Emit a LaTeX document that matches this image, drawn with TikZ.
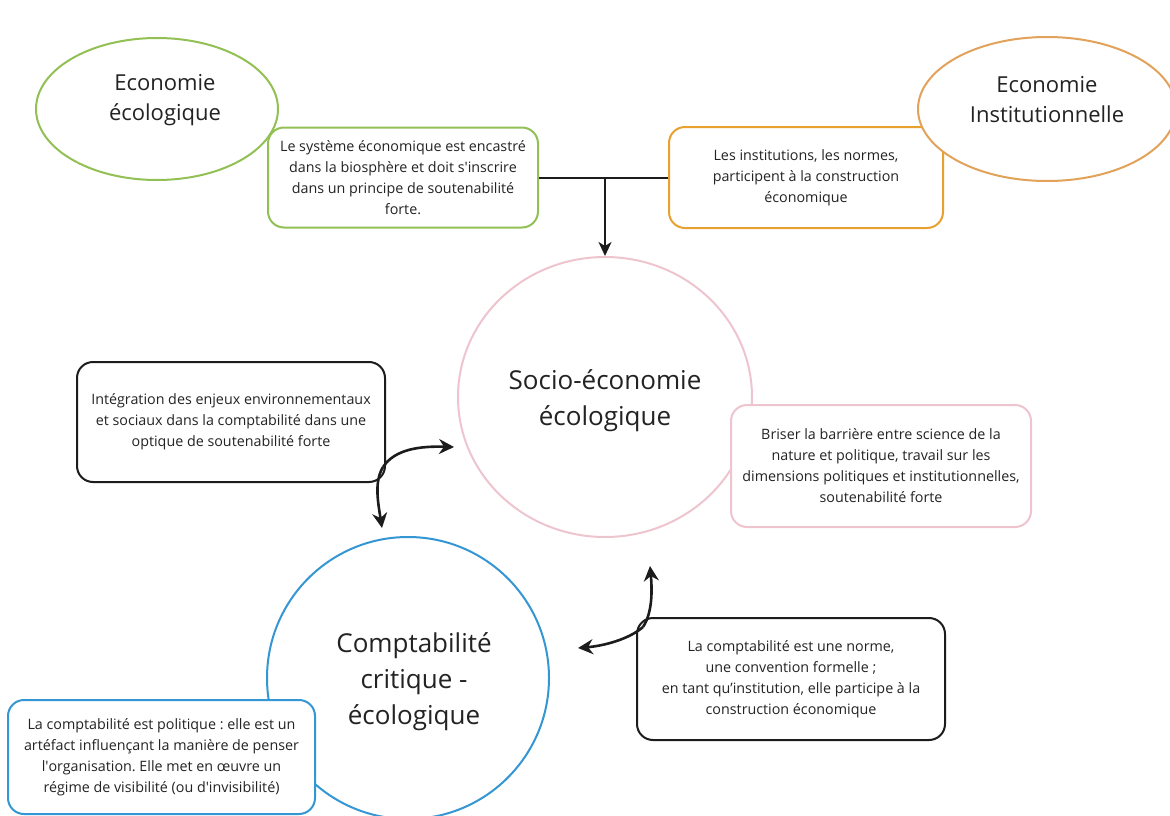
\documentclass[tikz,border=0pt]{standalone}
\usepackage{fontspec}
\setmainfont{Open Sans}
\newfontfamily\osplain{Open Sans}
\usetikzlibrary{shapes.geometric,arrows.meta}
\definecolor{txt}{RGB}{35,35,35}
\definecolor{cgreen}{RGB}{146,192,84}
\definecolor{corange}{RGB}{232,160,48}
\definecolor{corell}{RGB}{226,162,90}
\definecolor{cpink}{RGB}{238,196,206}
\definecolor{cblue}{RGB}{52,150,210}
\definecolor{cblack}{RGB}{28,28,28}
\newcommand{\sq}{{\osplain'}}
\frenchspacing
\tikzset{
  x=1pt, y=-1pt,
  boxnode/.style={draw, fill=white, rounded corners=16pt, line width=2pt, align=center,
    text=txt, inner sep=0pt, font=\fontsize{14.3}{21}\selectfont},
  ellnode/.style={draw, fill=white, ellipse, line width=2pt, inner sep=0pt},
  bigtext/.style={align=center, text=txt, font=\fontsize{22}{30}\selectfont},
  hugetext/.style={align=center, text=txt, font=\fontsize{26}{36}\selectfont},
  link/.style={draw=cblack, line width=2pt},
  curvy/.style={draw=cblack, line width=2.6pt, -{Stealth[length=15pt,width=15pt,inset=5pt]}},
}
\begin{document}
\begin{tikzpicture}
\useasboundingbox (0,0) rectangle (1170,816);
\begin{scope}
\clip (0,0) rectangle (1170,816);

% top-left ellipse and its box
\node[ellnode, draw=cgreen, minimum width=242, minimum height=142] (ecoE) at (157,109) {};
\node[bigtext] (ecoT) at (165,100) {Economie\\écologique};
\node[boxnode, draw=cgreen, minimum width=270, minimum height=100] (gbox) at (403,177.5)
  {Le système économique est encastré\\dans la biosphère et doit s\sq inscrire\\dans un principe de soutenabilité\\forte.};

% top-right box and ellipse
\node[boxnode, draw=corange, minimum width=274, minimum height=101] (obox) at (806,177.5)
  {Les institutions, les normes,\\participent à la construction\\économique};
\node[ellnode, draw=corell, minimum width=258, minimum height=144] (instE) at (1047,109) {};
\node[bigtext] (instT) at (1047,100) {Economie\\Institutionnelle};

% central circle
\node[ellnode, draw=cpink, minimum width=294, minimum height=280] (soc) at (605,397) {};
\node[hugetext] (socT) at (605,401) {Socio-économie\\écologique};
\node[boxnode, draw=cpink, minimum width=300, minimum height=122] (pbox) at (881,466)
  {Briser la barrière entre science de la\\nature et politique, travail sur les\\dimensions politiques et institutionnelles,\\soutenabilité forte};

% left black box
\node[boxnode, draw=cblack, minimum width=308, minimum height=120] (kbox1) at (231,422)
  {Intégration des enjeux environnementaux\\et sociaux dans la comptabilité dans une\\optique de soutenabilité forte};

% bottom circle
\node[ellnode, draw=cblue, minimum width=282, minimum height=282] (cpt) at (408,678) {};
\node[hugetext] (cptT) at (414,682) {Comptabilité\\critique -\\écologique};
\node[boxnode, draw=cblue, minimum width=307, minimum height=114] (bbox) at (161.5,757)
  {La comptabilité est politique : elle est un\\artéfact influençant la manière de penser\\l\sq organisation. Elle met en œuvre un\\régime de visibilité (ou d\sq invisibilité)};

% right black box
\node[boxnode, draw=cblack, minimum width=308, minimum height=122] (kbox2) at (791,679)
  {La comptabilité est une norme,\\une convention formelle ;\\en tant qu’institution, elle participe à la\\construction économique};

% top connector
\coordinate (junc) at (605,177.5);
\draw[link] (gbox.east) -- (obox.west);
\draw[link, -{Stealth[length=14pt,width=13pt,inset=4pt]}] (junc) -- (soc.north);

% curved arrows, left
\coordinate (j1) at (383,467);
\coordinate (t1) at (454,447);
\coordinate (t2) at (382,528);
\draw[curvy] (j1) .. controls (395,449) and (420,446) .. (t1);
\draw[curvy] (j1) .. controls (374,482) and (378,502) .. (t2);

% curved arrows, right
\coordinate (j2) at (643,627);
\coordinate (t3) at (650,566);
\coordinate (t4) at (578,648);
\draw[curvy] (j2) .. controls (653,612) and (652,588) .. (t3);
\draw[curvy] (j2) .. controls (628,640) and (602,646) .. (t4);
\end{scope}
\end{tikzpicture}
\end{document}
